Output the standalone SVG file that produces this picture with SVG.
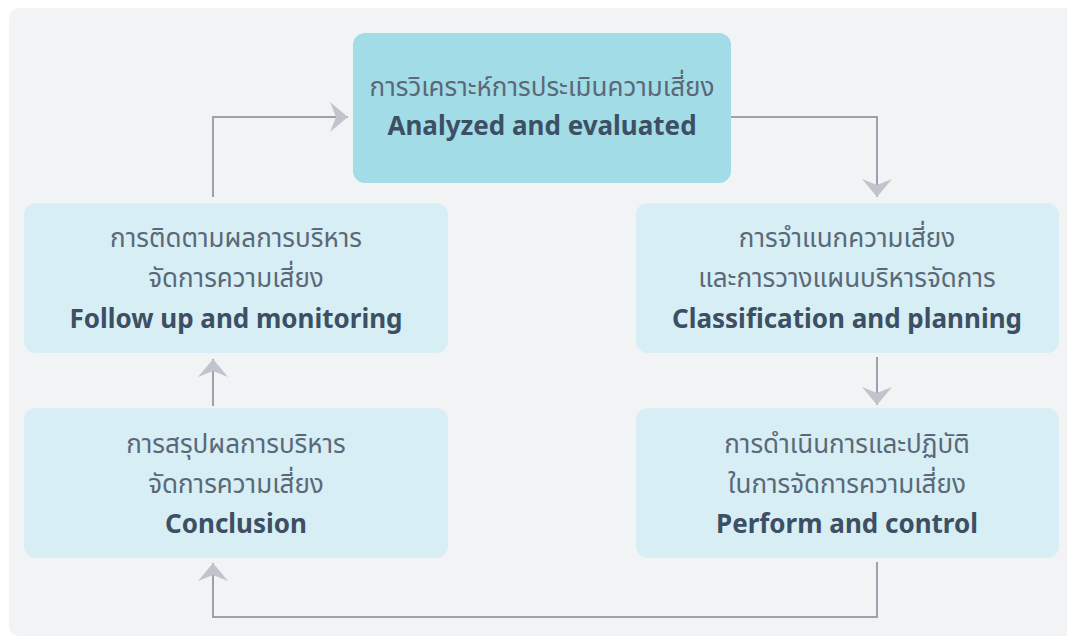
<svg xmlns="http://www.w3.org/2000/svg" width="1067" height="638" viewBox="0 0 1067 638">
<style>
.th{font-family:"Noto Sans","Noto Sans Thai","Liberation Sans",sans-serif;font-size:26px;fill:#5a6878;text-anchor:middle}
.en{font-family:"Noto Sans","Liberation Sans",sans-serif;font-size:26px;font-weight:bold;fill:#3d4f63;text-anchor:middle}
.node{fill:#d6eef4}
.conn{fill:none;stroke:#9ba2ac;stroke-width:2}
</style>
<defs>
<marker id="ah" viewBox="0 0 20 30" refX="18" refY="15" markerWidth="20" markerHeight="30" markerUnits="userSpaceOnUse" orient="auto">
<path d="M0,0 L18,15 L0,30 L6,15 Z" fill="#c0c4cc"/>
</marker>
</defs>
<rect x="9" y="8" width="1070" height="628" rx="10" fill="#f2f3f5"/>
<g id="connectors">
<path class="conn" d="M213,197 V117 H348" marker-end="url(#ah)"/>
<path class="conn" d="M731,117 H877 V197" marker-end="url(#ah)"/>
<path class="conn" d="M877,357 V405" marker-end="url(#ah)"/>
<path class="conn" d="M877,562 V617 H213 V563" marker-end="url(#ah)"/>
<path class="conn" d="M213,406 V359" marker-end="url(#ah)"/>
</g>
<g id="analyzed">
<rect x="353" y="33" width="378" height="150" rx="12" fill="#a2dce7"/>
<text class="th" x="542" y="96">การวิเคราะห์การประเมินความเสี่ยง</text>
<text class="en" x="542" y="135">Analyzed and evaluated</text>
</g>
<g id="classification">
<rect class="node" x="636" y="203" width="423" height="150" rx="12"/>
<text class="th" x="847" y="247">การจำแนกความเสี่ยง</text>
<text class="th" x="847" y="287">และการวางแผนบริหารจัดการ</text>
<text class="en" x="847" y="328">Classification and planning</text>
</g>
<g id="perform">
<rect class="node" x="636" y="408" width="423" height="150" rx="12"/>
<text class="th" x="847" y="453">การดำเนินการและปฏิบัติ</text>
<text class="th" x="847" y="493">ในการจัดการความเสี่ยง</text>
<text class="en" x="847" y="533">Perform and control</text>
</g>
<g id="conclusion">
<rect class="node" x="24" y="408" width="424" height="150" rx="12"/>
<text class="th" x="236" y="453">การสรุปผลการบริหาร</text>
<text class="th" x="236" y="493">จัดการความเสี่ยง</text>
<text class="en" x="236" y="533">Conclusion</text>
</g>
<g id="followup">
<rect class="node" x="24" y="203" width="424" height="150" rx="12"/>
<text class="th" x="236" y="247">การติดตามผลการบริหาร</text>
<text class="th" x="236" y="287">จัดการความเสี่ยง</text>
<text class="en" x="236" y="328">Follow up and monitoring</text>
</g>
</svg>
